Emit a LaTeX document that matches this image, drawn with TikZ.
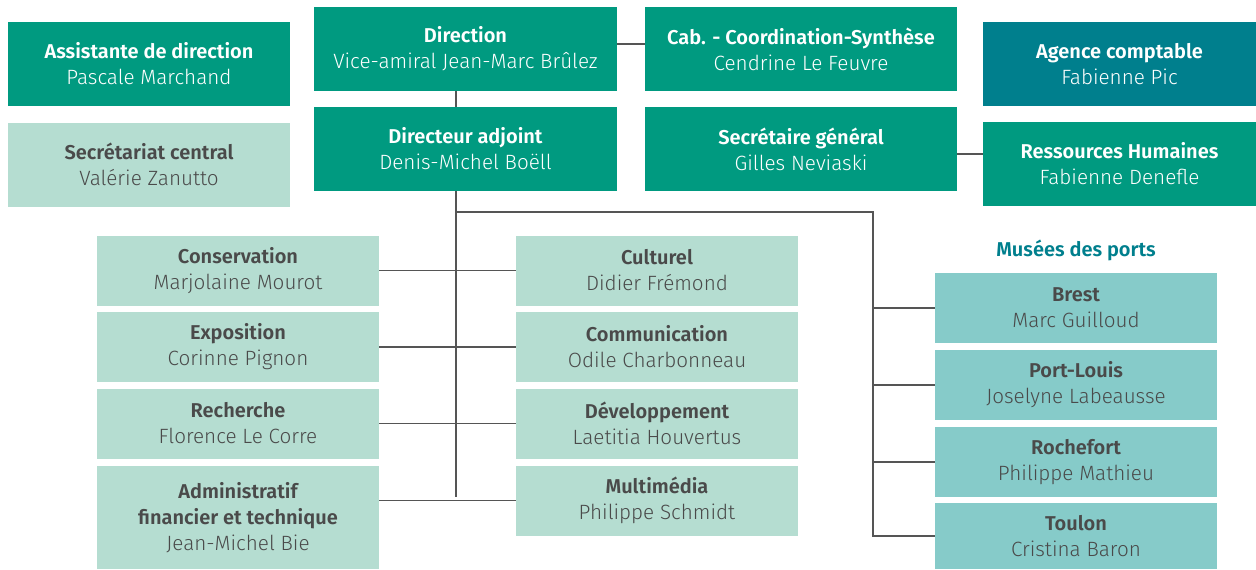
\documentclass[tikz,border=0pt]{standalone}
\usepackage{fontspec}
\setmainfont{Fira Sans}
\newfontfamily\lightfont{Fira Sans Light}
\newfontfamily\semifont{Fira Sans SemiBold}
\definecolor{dgreen}{HTML}{009A80}
\definecolor{lgreen}{HTML}{B5DDD1}
\definecolor{tgreen}{HTML}{86CBC9}
\definecolor{acteal}{HTML}{007F8D}
\definecolor{txtgray}{HTML}{4A4A4A}
\definecolor{linegray}{HTML}{555555}
\newcommand{\ttl}[1]{{\semifont\fontsize{15}{19.5}\selectfont #1}}
\newcommand{\nme}[1]{{\lightfont\fontsize{15.5}{19.5}\selectfont #1}}
\newcommand{\who}[2]{\ttl{#1}\\\nme{#2}}

\begin{document}
\begin{tikzpicture}[x=0.75pt,y=-0.75pt,
  box/.style={inner sep=0pt,align=center,font=\fontsize{15}{19.5}\selectfont},
  dark/.style={box,fill=dgreen,text=white},
  pale/.style={box,fill=lgreen,text=txtgray,minimum width=211.5pt,minimum height=52.5pt},
  port/.style={box,fill=tgreen,text=txtgray,minimum width=211.5pt,minimum height=52.5pt},
  link/.style={draw=linegray,line width=0.9pt}]
\useasboundingbox (0,0) rectangle (1256,569);
\node[dark,minimum width=211.5pt,minimum height=63pt] (assist) at (149,64) {\who{Assistante de direction}{Pascale Marchand}};
\node[box,fill=lgreen,text=txtgray,minimum width=211.5pt,minimum height=63pt] (secr) at (149,164.5) {\who{Secrétariat central}{Valérie Zanutto}};
\node[dark,minimum width=227.25pt,minimum height=63pt] (dir) at (465.5,49) {\who{Direction}{Vice-amiral Jean-Marc Brûlez}};
\node[dark,minimum width=227.25pt,minimum height=63pt] (adj) at (465.5,149) {\who{Directeur adjoint}{Denis-Michel Boëll}};
\node[dark,minimum width=234pt,minimum height=63pt] (cab) at (801,49) {\who{Cab. - Coordination-Synthèse}{Cendrine Le Feuvre}};
\node[dark,minimum width=234pt,minimum height=63pt] (sg) at (801,149) {\who{Secrétaire général}{Gilles Neviaski}};
\node[box,fill=acteal,text=white,minimum width=204.75pt,minimum height=63pt] (agence) at (1119.5,64) {\who{Agence comptable}{Fabienne Pic}};
\node[dark,minimum width=204.75pt,minimum height=63pt] (rh) at (1119.5,164) {\who{Ressources Humaines}{Fabienne Denefle}};

\node[pale] (cons) at (238,270.5) {\who{Conservation}{Marjolaine Mourot}};
\node[pale] (expo) at (238,347) {\who{Exposition}{Corinne Pignon}};
\node[pale] (rech) at (238,423.5) {\who{Recherche}{Florence Le Corre}};
\node[pale,minimum height=77.25pt] (admin) at (238,517.5) {\ttl{Administratif}\\\ttl{financier et technique}\\\nme{Jean-Michel Bie}};
\node[pale] (cult) at (657,270.5) {\who{Culturel}{Didier Frémond}};
\node[pale] (comm) at (657,347) {\who{Communication}{Odile Charbonneau}};
\node[pale] (dev) at (657,423.5) {\who{Développement}{Laetitia Houvertus}};
\node[pale] (multi) at (657,500.5) {\who{Multimédia}{Philippe Schmidt}};

\node[text=acteal] (musees) at (1076,250) {\ttl{Musées des ports}};
\node[port] (brest) at (1076,308) {\who{Brest}{Marc Guilloud}};
\node[port] (portl) at (1076,385) {\who{Port-Louis}{Joselyne Labeausse}};
\node[port] (roch) at (1076,462) {\who{Rochefort}{Philippe Mathieu}};
\node[port,minimum height=49.5pt] (toulon) at (1076,536) {\who{Toulon}{Cristina Baron}};

\coordinate (ttop) at (456,212);
\coordinate (tbot) at (456,497);
\coordinate (ptop) at (873,212);
\draw[link] ([yshift=3.75pt]dir.east) -- ([yshift=3.75pt]cab.west);
\draw[link] ([yshift=-3.75pt]sg.east) -- ([yshift=-3.75pt]rh.west |- sg.east);
\draw[link] (dir.south -| ttop) -- (adj.north -| ttop);
\draw[link] (adj.south -| ttop) -- (tbot);
\draw[link] (ttop) -- (ptop) -- (ptop |- toulon.west) -- (toulon.west);
\draw[link] (cons.east) -- (cult.west);
\draw[link] (expo.east) -- (comm.west);
\draw[link] (rech.east) -- (dev.west);
\draw[link] (admin.east |- multi.west) -- (multi.west);
\draw[link] (brest.west) -- (brest.west -| ptop);
\draw[link] (portl.west) -- (portl.west -| ptop);
\draw[link] (roch.west) -- (roch.west -| ptop);
\end{tikzpicture}
\end{document}
